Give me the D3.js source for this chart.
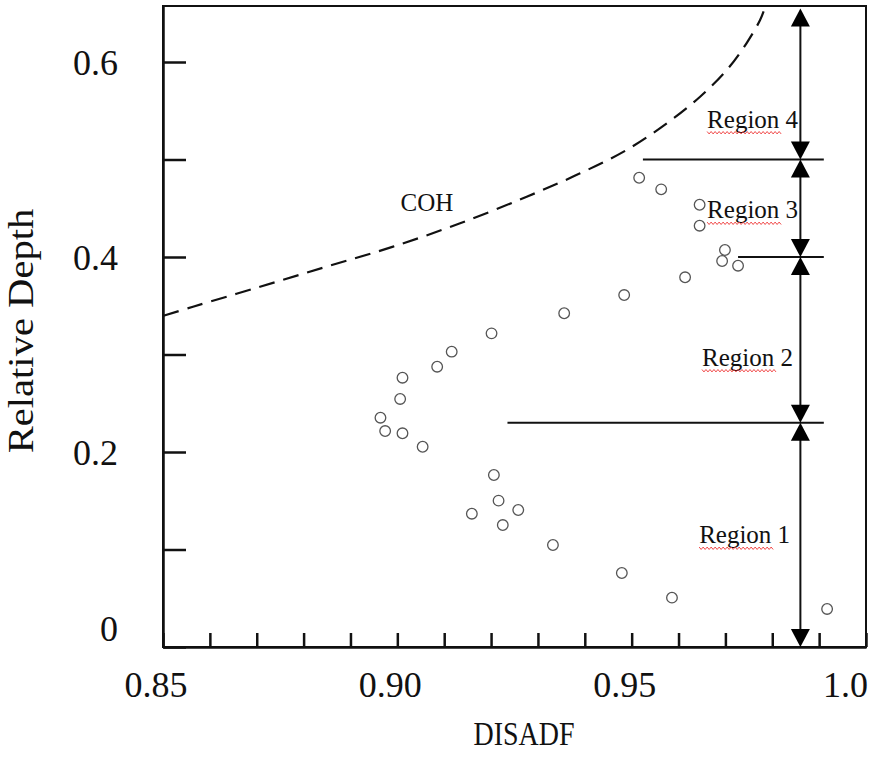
<!DOCTYPE html>
<html>
<head>
<meta charset="utf-8">
<script src="https://cdn.jsdelivr.net/npm/d3@7"></script>
<style>
  body { margin: 0; background: #fff; }
  svg { display: block; font-family: "Liberation Serif", "Times New Roman", serif; }
</style>
</head>
<body>
<svg id="chart" width="875" height="764"></svg>
<script>
// measured points (DISADF vs relative depth)
const disadf = [0.9201, 0.9116, 0.9085, 0.9011, 0.9006, 0.8964, 0.8974, 0.9011, 0.9054,
  0.9206, 0.9216, 0.9159, 0.9258, 0.9225, 0.9332, 0.9479, 0.9586, 0.9917,
  0.9356, 0.9484, 0.9516, 0.9563, 0.9645, 0.9645, 0.9699, 0.9693, 0.9727, 0.9614];
const depth = [0.3217, 0.3029, 0.2875, 0.2762, 0.2544, 0.2352, 0.2215, 0.2192, 0.2054,
  0.1764, 0.1501, 0.1367, 0.1405, 0.1251, 0.1046, 0.0759, 0.0506, 0.0390,
  0.3423, 0.3610, 0.4813, 0.4694, 0.4536, 0.4321, 0.4072, 0.3959, 0.3911, 0.3792];

// COH boundary (dashed)
const cohX = [0.8501, 0.8564, 0.8707, 0.8849, 0.8991, 0.9134, 0.9276, 0.9390, 0.9489,
  0.9575, 0.9646, 0.9703, 0.9745, 0.9774, 0.9785];
const cohY = [0.3398, 0.3490, 0.3695, 0.3901, 0.4106, 0.4346, 0.4618, 0.4858, 0.5097,
  0.5371, 0.5644, 0.5918, 0.6192, 0.6431, 0.6567];

const xTickLabels = ['0.85', '0.90', '0.95', '1.0'];
const yTickLabels = ['0', '0.2', '0.4', '0.6'];

const regionNames = ['Region 1', 'Region 2', 'Region 3', 'Region 4'];
const regionBounds = [0, 0.23, 0.4, 0.5, 0.655];
const boundaryStart = [0.9235, 0.9727, 0.9524];   // left end of the 0.23 / 0.4 / 0.5 lines
const boundaryEnd = 0.991;
const arrowX = 0.986;
const regionLabelX = [0.9644, 0.965, 0.9661, 0.9661];
const regionLabelY = [0.1064, 0.2885, 0.4397, 0.5326];

const svg = d3.select('#chart');
const plot = { left: 163, right: 866, top: 6, bottom: 647 };

const x = d3.scaleLinear().domain([0.85, 1.0]).range([plot.left, plot.right]);
const y = d3.scaleLinear().domain([0, (plot.bottom - plot.top) / 975]).range([plot.bottom, plot.top]);

// frame
svg.append('rect')
  .attr('x', plot.left).attr('y', plot.top)
  .attr('width', plot.right - plot.left).attr('height', plot.bottom - plot.top)
  .attr('fill', 'none').attr('stroke', '#111').attr('stroke-width', 2);

// bottom axis: minor ticks every 0.01 pointing in
const xAxis = d3.axisBottom(x)
  .tickValues(d3.range(16).map(i => 0.85 + i * 0.01))
  .tickSize(-14).tickSizeOuter(0).tickFormat('');
const gx = svg.append('g').attr('transform', `translate(0,${plot.bottom})`).call(xAxis);
gx.select('.domain').attr('stroke', '#111').attr('stroke-width', 2.5);
gx.selectAll('.tick line').attr('stroke', '#111').attr('stroke-width', 2.5);

svg.append('g').selectAll('text')
  .data(xTickLabels)
  .enter().append('text')
  .attr('x', (d, i) => i === 3 ? x(+d) + 2 : x(+d) - 7)
  .attr('y', 697)
  .attr('text-anchor', (d, i) => i === 3 ? 'end' : 'middle')
  .attr('font-size', 36)
  .attr('fill', '#111')
  .text(d => d);

// left axis: ticks every 0.1 pointing in
const yAxis = d3.axisLeft(y)
  .tickValues(d3.range(7).map(i => i * 0.1))
  .tickSize(-23).tickSizeOuter(0).tickFormat('');
const gy = svg.append('g').attr('transform', `translate(${plot.left},0)`).call(yAxis);
gy.select('.domain').attr('stroke', '#111').attr('stroke-width', 2.5);
gy.selectAll('.tick line').attr('stroke', '#111').attr('stroke-width', 2.5);

svg.append('g').selectAll('text')
  .data(yTickLabels)
  .enter().append('text')
  .attr('x', 118)
  .attr('y', d => +d === 0 ? y(0) - 19 : y(+d))
  .attr('dy', '0.35em')
  .attr('text-anchor', 'end')
  .attr('font-size', 36)
  .attr('fill', '#111')
  .text(d => d);

// axis titles (the source picture is a little stretched vertically)
svg.append('text')
  .attr('transform', 'translate(524,745) scale(1,1.17)')
  .attr('text-anchor', 'middle')
  .attr('font-size', 28).attr('fill', '#111')
  .text('DISADF');
svg.append('text')
  .attr('transform', 'translate(33,331) rotate(-90) scale(1.16,1)')
  .attr('text-anchor', 'middle')
  .attr('font-size', 35).attr('fill', '#111')
  .text('Relative Depth');

// COH curve
const cohLine = d3.line()
  .x(d => x(d[0])).y(d => y(d[1]))
  .curve(d3.curveCatmullRom);
svg.append('path')
  .datum(d3.zip(cohX, cohY))
  .attr('d', cohLine)
  .attr('fill', 'none')
  .attr('stroke', '#111')
  .attr('stroke-width', 2.2)
  .attr('stroke-dasharray', '16,9');
svg.append('text')
  .attr('x', x(0.9007)).attr('y', y(0.4475))
  .attr('font-size', 25).attr('fill', '#111')
  .text('COH');

// region boundaries
svg.append('g').selectAll('line')
  .data(boundaryStart)
  .enter().append('line')
  .attr('x1', d => x(d)).attr('x2', x(boundaryEnd))
  .attr('y1', (d, i) => y(regionBounds[i + 1]))
  .attr('y2', (d, i) => y(regionBounds[i + 1]))
  .attr('stroke', '#111').attr('stroke-width', 2);

// double arrows
const ax = x(arrowX);
const head = (tipY, dir) => {
  // dir = -1 points up, +1 points down
  const b = tipY - dir * 18;
  return `M${ax},${tipY}L${ax - 9.5},${b}L${ax + 9.5},${b}Z`;
};
const arrows = svg.append('g');
regionNames.forEach((name, i) => {
  const y0 = y(regionBounds[i]), y1 = y(regionBounds[i + 1]);
  arrows.append('line')
    .attr('x1', ax).attr('x2', ax)
    .attr('y1', y1 + 10).attr('y2', y0 - 10)
    .attr('stroke', '#111').attr('stroke-width', 2);
  arrows.append('path').attr('d', head(y1, -1)).attr('fill', '#000');
  arrows.append('path').attr('d', head(y0, 1)).attr('fill', '#000');
});

// region labels with the spell-check squiggle under "Region"
const labels = svg.append('g');
regionNames.forEach((name, i) => {
  const lx = x(regionLabelX[i]), ly = y(regionLabelY[i]);
  labels.append('text')
    .attr('x', lx).attr('y', ly)
    .attr('font-size', 25).attr('fill', '#111')
    .text(name);
  const pts = d3.range(0, 76, 2).map((d, k) => [lx + d, ly + 5 + (k % 2 ? 1.2 : -1.2)]);
  labels.append('path')
    .attr('d', d3.line()(pts))
    .attr('fill', 'none').attr('stroke', '#e33').attr('stroke-width', 0.9);
});

// data points
svg.append('g').selectAll('circle')
  .data(d3.zip(disadf, depth))
  .enter().append('circle')
  .attr('cx', d => x(d[0]))
  .attr('cy', d => y(d[1]))
  .attr('r', 5.3)
  .attr('fill', 'none')
  .attr('stroke', '#555')
  .attr('stroke-width', 1.3);
</script>
</body>
</html>
